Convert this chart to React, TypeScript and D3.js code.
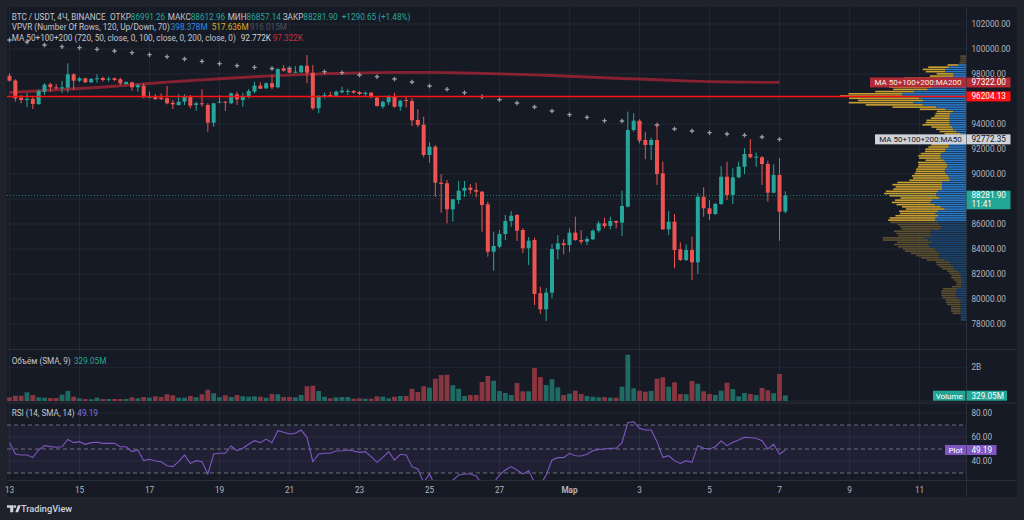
import React, { useMemo } from "react";
import * as d3 from "d3";

// ---------- data (4h candles, BTC/USDT, from 13 Feb) ----------
const START = new Date(2025, 1, 13, 0, 0);
const OPEN = [97864,97480,96104,95960,96000,95600,96584,97176,96936,96856,96904,97976,97464,97656,97336,97576,97680,97560,97656,97576,97200,97336,96936,97064,96104,96184,96104,96056,95704,95520,95784,96184,95520,95656,95520,94104,95704,95784,95656,96376,95920,96184,96584,97064,96856,97256,96936,98456,98376,98104,98136,98664,98104,95256,96240,96320,96264,96536,96560,96640,96560,96400,96504,96104,95384,95736,96184,95384,95920,95840,94320,93944,91520,92184,89304,89256,87176,87920,88664,88904,88720,88584,87576,83784,84184,85200,86240,86720,85520,84056,84720,80456,79176,80504,83976,84456,84320,85304,84720,84584,84776,85464,86056,85840,86240,86104,87384,93520,94264,92720,92320,92720,90056,85576,86184,83976,83120,83920,82936,88184,87256,86800,87600,89784,88320,89736,90584,91600,91304,91336,90800,88504,89920,86991.26];
const HIGH = [98056,97576,96320,96504,96184,96776,97256,97304,97200,97440,98856,98056,97760,97720,97680,98000,97784,97784,97720,97704,97400,97384,97256,97256,96584,96400,96456,97040,95920,96376,96376,96320,95784,96776,95656,95704,96320,95840,96504,96584,96504,96800,97384,97336,97336,97920,98456,98720,98584,98640,98720,99520,98720,96320,96504,96584,96680,96984,96800,96720,96640,96584,96560,96160,95864,96320,96504,95920,96184,96056,95176,94584,92536,92320,90000,89520,88000,89440,89440,89200,89304,88640,87784,85384,85520,86720,87040,86800,85680,84960,84904,80984,80856,84400,85120,84776,85656,86584,85520,84984,85576,86240,86504,86584,86280,88664,94984,94856,94376,93384,92904,94056,90984,87040,86800,84536,84376,84984,88456,88936,87920,87704,90640,90984,90456,90984,92056,92800,91704,91440,91064,90776,91256,88612.96];
const LOW = [97384,95784,95656,95336,95200,95520,96320,96584,96776,96480,96504,96720,97360,97280,97280,97304,97384,97384,97440,97120,97160,96664,96584,96056,96056,95920,95920,95576,95200,95464,95520,95256,95064,95384,93384,93784,95656,95040,95600,95520,95384,96056,96456,96800,96800,96800,96856,98184,98056,98056,98056,97256,95120,94856,96056,96184,96200,96456,96320,96440,96320,96240,96080,95400,95224,95520,95304,95064,95336,93840,93736,91336,90904,88184,86904,86056,86184,87600,88184,88400,88136,85384,83384,82264,84056,84720,85784,84640,83680,82720,79520,78800,78240,80056,83176,83576,83784,84664,84376,84320,84720,85304,85656,85576,85656,85040,87336,93384,92456,91176,91120,89120,85520,85120,82456,83040,83040,81520,82000,86584,86320,86720,87520,87920,87600,89656,90000,91256,90584,89120,87784,88456,84664,86857.14];
const CLOSE = [97464,96056,95920,96000,95600,96640,97144,96936,96856,96936,97976,97464,97656,97336,97600,97656,97520,97624,97520,97256,97360,96936,97120,96136,96184,96000,96000,95656,95576,95784,96184,95464,95656,95576,94104,95656,95784,95704,96456,95976,96184,96640,97064,96824,97256,96936,98400,98264,98104,98184,98664,98104,95256,96184,96320,96240,96584,96664,96640,96504,96400,96504,96136,95440,95784,96184,95384,95864,95840,94296,93920,91520,92184,89304,89200,87176,87976,88664,88904,88720,88584,87520,83784,84240,85200,86240,86664,85464,84056,84664,80400,79176,80504,84000,84456,84320,85304,84720,84584,84800,85464,86056,85840,86240,86104,87440,93520,94264,92664,92320,92720,90000,85576,86184,83920,83120,83920,82936,88184,87256,86800,87600,89784,88320,89736,90584,91600,91336,91384,90800,88504,89920,86984,88281.9];
// volume, millions of USDT
const VOLUME = [219,314,314,516,356,219,196,178,178,374,593,255,160,119,101,196,119,119,119,119,119,219,160,237,196,279,237,397,338,196,196,297,219,397,670,457,219,338,237,356,279,255,279,255,196,415,397,237,237,219,356,872,907,593,255,160,219,237,237,136,160,136,136,279,255,160,255,297,297,729,534,872,789,1322,1542,1560,931,729,297,356,356,1127,1483,1204,593,474,356,1067,575,575,1957,1423,949,1287,812,356,433,611,415,297,255,219,237,196,196,848,2746,753,611,551,593,1322,1405,848,1109,415,397,1186,1026,575,415,356,611,1085,712,279,474,415,356,771,635,457,1601,329];
const RSI = [55.3,45.8,45,45,43,49.2,52.8,52,51.4,51.9,58,55.3,56.1,53.9,55.3,55.6,54.7,54.7,54.7,51.9,51.9,47.8,49.2,40.3,41.4,40,39.4,36.1,35.3,39.4,45,38,40.3,39.4,29.2,45.8,46.4,46.4,52.5,48.6,50.6,53.9,56.9,55.3,58.3,55.3,65.3,63.9,62.5,63.1,65.8,59.7,39.4,45.8,46.4,46.4,48.3,48.6,49.2,48.3,47.2,47.8,43.6,38.9,43,47.8,40.8,45.6,45,35.3,33.3,22,29.2,19,18,16,24,28.3,29.2,29.2,27.5,21,17,22,28.3,32.5,35.3,32.5,29.2,31.9,22,20,28.3,40.8,42.8,42.8,46.4,44.4,44.2,45.6,48.6,49.7,50,50.6,50.6,55.3,71.9,72.8,67.2,65.8,65.8,56.1,43,44.4,40.3,38,40.3,38.9,52.8,50.6,50,51.9,56.7,52.8,55.6,57.5,59.7,59.4,58.9,56.9,50,53.9,45.6,49.19];
// 12h moving averages (one value every third 4h candle)
const MA200_12H = [96520,96600,96680,96760,96840,96920,97020,97130,97240,97350,97440,97530,97620,97700,97780,97850,97910,97970,98020,98060,98090,98110,98130,98136,98130,98110,98080,98050,98010,97970,97930,97880,97820,97760,97700,97640,97600,97540,97480,97430,97384,97360,97345,97330,97322];
const MA50_12H = [100720,100560,100320,100184,100104,99976,99840,99704,99544,99384,99200,99016,98824,98664,98536,98440,98440,98320,98184,98104,97920,97784,97600,97360,97040,96776,96504,96184,95944,95680,95360,95040,94744,94536,94264,94240,94080,93920,93600,93440,93304,93200,93096,92960,92772.35];
const HLINE = 96204.13;
const PRICE_TICKS = [78000,80000,82000,84000,86000,88000,90000,92000,94000,96000,98000,100000,102000];
const DATE_TICKS = ["2025-02-13","2025-02-15","2025-02-17","2025-02-19","2025-02-21","2025-02-23","2025-02-25","2025-02-27","2025-03-01","2025-03-03","2025-03-05","2025-03-07","2025-03-09","2025-03-11"];
const DATE_LABELS = ["13","15","17","19","21","23","25","27","Мар","3","5","7","9","11"];
const RSI_TICKS = [40,60,80];
const RSI_BANDS = [30,50,70];

const FONT = "Roboto, 'Liberation Sans', Arial, sans-serif";
const BG = "#161a25";
const OUTER = "#1f222b";
const GRID = "#222633";
const UP = "#26a69a";
const DOWN = "#ef5350";
const TXT = "#b2b5be";
const H4 = 4 * 3600 * 1000;
const DAY = 24 * 3600 * 1000;

const L = 7, R = 966, RE = 1017;

function parseDay(s: string) {
  const [y, m, d] = s.split("-").map(Number);
  return new Date(y, m - 1, d);
}

export default function App() {
  const x = d3.scaleTime().domain([START, new Date(START.getTime() + 22 * DAY)]).range([9.5, 779.5]);
  const xi = (i: number) => x(new Date(START.getTime() + i * H4));
  const y = d3.scaleLinear().domain([78000, 102000]).range([324, 24]);
  const yv = d3.scaleLinear().domain([0, 2000]).range([401, 367.3]);
  const yr = d3.scaleLinear().domain([30, 70]).range([473, 425]);

  const candles = OPEN.map((o, i) => ({ i, o, h: HIGH[i], l: LOW[i], c: CLOSE[i], v: VOLUME[i] }));

  // Visible range volume profile, 120 rows, up/down split, 70% value area
  const profile = useMemo(() => {
    const rows = 120;
    const hi = d3.max(HIGH) as number;
    const lo = d3.min(LOW) as number;
    const step = (hi - lo) / rows;
    const up = new Array(rows).fill(0);
    const dn = new Array(rows).fill(0);
    candles.forEach((k) => {
      const rng = k.h - k.l;
      for (let r = 0; r < rows; r++) {
        const a = lo + r * step, b = a + step;
        const ov = Math.min(k.h, b) - Math.max(k.l, a);
        if (ov <= 0) continue;
        const f = rng > 0 ? ov / rng : 1;
        if (k.c >= k.o) up[r] += k.v * f; else dn[r] += k.v * f;
      }
    });
    const tot = up.map((u, r) => u + dn[r]);
    const sum = d3.sum(tot);
    let poc = d3.maxIndex(tot);
    let a = poc, b = poc, acc = tot[poc];
    while (acc < sum * 0.7 && (a > 0 || b < rows - 1)) {
      const upNext = b < rows - 1 ? tot[b + 1] + (b < rows - 2 ? tot[b + 2] : 0) : -1;
      const dnNext = a > 0 ? tot[a - 1] + (a > 1 ? tot[a - 2] : 0) : -1;
      if (upNext >= dnNext) { b = Math.min(rows - 1, b + 2); } else { a = Math.max(0, a - 2); }
      acc = d3.sum(tot.slice(a, b + 1));
    }
    const w = d3.scaleLinear().domain([0, d3.max(tot) as number]).range([0, 126]);
    return tot.map((t, r) => ({
      lo: lo + r * step, hi: lo + (r + 1) * step,
      up: w(up[r]), dn: w(dn[r]), va: r >= a && r <= b,
    }));
  }, []);

  const ma200Line = d3.line<number>().x((_, k) => xi(k * 3)).y((v) => y(v))(MA200_12H) || "";
  const rsiLine = d3.line<number>().x((_, i) => xi(i)).y((v) => yr(v))(RSI) || "";

  const lastClose = CLOSE[CLOSE.length - 1];
  const boxes = [y(97322), y(HLINE), y(92772.35), y(lastClose) + 4];
  const tickVisible = (p: number) => boxes.every((b) => Math.abs(y(p) - b) > 8);

  const fmt = d3.format(".2f");
  const dates = DATE_TICKS.map(parseDay);

  return (
    <svg width={1024} height={520} style={{ position: "absolute", left: 0, top: 0, display: "block" }} fontFamily={FONT}>
      <defs>
        <clipPath id="cp-price"><rect x={L} y={7} width={R - L} height={342} /></clipPath>
        <clipPath id="cp-vol"><rect x={L} y={350} width={R - L} height={52} /></clipPath>
        <clipPath id="cp-rsi"><rect x={L} y={404} width={R - L} height={76} /></clipPath>
      </defs>
      <rect width={1024} height={520} fill={OUTER} />
      <rect x={L} y={7} width={RE - L} height={490} fill={BG} />

      {/* grid */}
      {dates.map((d, k) => (
        <line key={"vg" + k} x1={x(d)} x2={x(d)} y1={7} y2={480} stroke={GRID} strokeWidth={1} />
      ))}
      {PRICE_TICKS.map((p) => (
        <line key={"hg" + p} x1={L} x2={R} y1={y(p)} y2={y(p)} stroke={GRID} strokeWidth={1} />
      ))}
      <line x1={L} x2={R} y1={yv(2000)} y2={yv(2000)} stroke={GRID} />
      <line x1={L} x2={R} y1={yv(0)} y2={yv(0)} stroke={GRID} />
      {RSI_TICKS.map((t) => (
        <line key={"rg" + t} x1={L} x2={R} y1={yr(t)} y2={yr(t)} stroke={GRID} />
      ))}

      {/* pane separators */}
      <line x1={L} x2={RE} y1={349.5} y2={349.5} stroke="#2a2e39" />
      <line x1={L} x2={RE} y1={403} y2={403} stroke="#2a2e39" />
      <line x1={L} x2={RE} y1={480.5} y2={480.5} stroke="#2a2e39" />
      <line x1={R + 0.5} x2={R + 0.5} y1={7} y2={497} stroke="#2a2e39" />

      {/* price pane */}
      <g clipPath="url(#cp-price)">
        {profile.map((r, k) => {
          const y0 = y(r.hi) + 0.3, h = Math.max(0.8, y(r.lo) - y(r.hi) - 0.6);
          return (
            <g key={"vp" + k}>
              <rect x={R - r.up} y={y0} width={r.up} height={h} fill={r.va ? "#2a79c6" : "#1d4670"} />
              <rect x={R - r.up - r.dn} y={y0} width={r.dn} height={h} fill={r.va ? "#c9a032" : "#5c5030"} />
            </g>
          );
        })}
        <path d={ma200Line} fill="none" stroke="rgba(178,36,52,0.72)" strokeWidth={2.8} />
        {MA50_12H.map((v, k) => {
          const cx = xi(k * 3), cy = y(v);
          return (
            <path key={"c" + k} d={`M${cx - 2.2},${cy}H${cx + 2.2}M${cx},${cy - 2.2}V${cy + 2.2}`} stroke="#9a9da6" strokeWidth={1.3} />
          );
        })}
        {candles.map((k) => {
          const cx = xi(k.i);
          const col = k.c >= k.o ? UP : DOWN;
          const top = y(Math.max(k.o, k.c));
          const bh = Math.max(1, y(Math.min(k.o, k.c)) - top);
          return (
            <g key={"k" + k.i}>
              <line x1={cx} x2={cx} y1={y(k.h)} y2={y(k.l)} stroke={col} strokeWidth={1} />
              <rect x={cx - 2} y={top} width={4} height={bh} fill={col} />
            </g>
          );
        })}
        <line x1={L} x2={R} y1={y(lastClose)} y2={y(lastClose)} stroke={UP} strokeOpacity={0.7} strokeDasharray="1 2" />
        <line x1={L} x2={R} y1={y(HLINE)} y2={y(HLINE)} stroke="#ff1111" strokeWidth={1.5} />
      </g>

      {/* volume pane */}
      <g clipPath="url(#cp-vol)">
        {candles.map((k) => (
          <rect key={"v" + k.i} x={xi(k.i) - 2.4} y={yv(k.v)} width={4.8} height={yv(0) - yv(k.v)}
            fill={k.c >= k.o ? "#1f6b64" : "#8a3640"} />
        ))}
      </g>

      {/* RSI pane */}
      <rect x={L} y={yr(70)} width={R - L} height={yr(30) - yr(70)} fill="rgba(126,87,194,0.1)" />
      {RSI_BANDS.map((b) => (
        <line key={"rb" + b} x1={L} x2={R} y1={yr(b)} y2={yr(b)} stroke="#6b6e78" strokeDasharray="4 3" strokeWidth={1} />
      ))}
      <g clipPath="url(#cp-rsi)">
        <path d={rsiLine} fill="none" stroke="#7e57c2" strokeWidth={1.1} />
      </g>

      {/* right axis labels */}
      {PRICE_TICKS.filter(tickVisible).map((p) => (
        <text key={"pt" + p} x={971.5} y={y(p) + 3} fontSize={8.2} fill={TXT}>{fmt(p)}</text>
      ))}
      <text x={971.5} y={yv(2000) + 3} fontSize={8.2} fill={TXT}>2B</text>
      {RSI_TICKS.map((t) => (
        <text key={"rt" + t} x={971.5} y={yr(t) + 3} fontSize={8.2} fill={TXT}>{fmt(t)}</text>
      ))}

      {/* price label boxes */}
      <rect x={870} y={y(97322) - 5} width={96} height={10} fill="#b22a36" />
      <text x={918} y={y(97322) + 3} fontSize={8} fill="#f0f0f0" textAnchor="middle">MA 50+100+200:MA200</text>
      <rect x={966.5} y={y(97322) - 5} width={44} height={10} fill="#b22a36" />
      <text x={971.5} y={y(97322) + 3} fontSize={8.2} fill="#ffffff">97322.00</text>

      <rect x={966.5} y={y(HLINE) - 5} width={44} height={10} fill="#ff1111" />
      <text x={971.5} y={y(HLINE) + 3} fontSize={8.2} fill="#ffffff">{fmt(HLINE)}</text>

      <rect x={875} y={y(92772.35) - 5} width={91} height={10} fill="#cfd2d9" />
      <text x={920.5} y={y(92772.35) + 3} fontSize={8} fill="#131722" textAnchor="middle">MA 50+100+200:MA50</text>
      <rect x={966.5} y={y(92772.35) - 5} width={44} height={10} fill="#cfd2d9" />
      <text x={971.5} y={y(92772.35) + 3} fontSize={8.2} fill="#131722">92772.35</text>

      <rect x={966.5} y={y(lastClose) - 4.8} width={44} height={18.6} fill="#22a595" />
      <text x={971.5} y={y(lastClose) + 3} fontSize={8.2} fill="#ffffff">{fmt(lastClose)}</text>
      <text x={971.5} y={y(lastClose) + 11.5} fontSize={8.2} fill="#ffffff">11:41</text>

      <rect x={933} y={390.7} width={32.5} height={10} fill="#22a595" />
      <text x={949.2} y={398.5} fontSize={8} fill="#ffffff" textAnchor="middle">Volume</text>
      <rect x={966.5} y={390.7} width={40.5} height={10} fill="#22a595" />
      <text x={971.5} y={398.5} fontSize={8.2} fill="#ffffff">329.05M</text>

      <rect x={945} y={yr(49.19) - 5} width={21} height={10} fill="#7e57c2" />
      <text x={955.5} y={yr(49.19) + 3} fontSize={8} fill="#ffffff" textAnchor="middle">Plot</text>
      <rect x={966.5} y={yr(49.19) - 5} width={30} height={10} fill="#7e57c2" />
      <text x={971.5} y={yr(49.19) + 3} fontSize={8.2} fill="#ffffff">49.19</text>

      {/* time axis */}
      {dates.map((d, k) => (
        <text key={"dt" + k} x={x(d)} y={492.5} fontSize={8.2} fill={TXT} textAnchor="middle"
          fontWeight={DATE_LABELS[k] === "Мар" ? 700 : 400}>{DATE_LABELS[k]}</text>
      ))}

      {/* legends */}
      <text y={19.5} fontSize={8.2} fill="#c3c6ce">
        <tspan x={11.7}>BTC / USDT, 4Ч, BINANCE</tspan>
        <tspan x={110}>ОТКР</tspan><tspan fill={UP}>86991.26</tspan>
        <tspan x={167.7}>МАКС</tspan><tspan fill={UP}>88612.96</tspan>
        <tspan x={227.7}>МИН</tspan><tspan fill={UP}>86857.14</tspan>
        <tspan x={282.7}>ЗАКР</tspan><tspan fill={UP}>88281.90</tspan>
        <tspan x={341.7} fill={UP}>+1290.65 (+1.48%)</tspan>
      </text>
      <text y={30.3} fontSize={8.2} fill="#c3c6ce">
        <tspan x={11.7}>VPVR (Number Of Rows, 120, Up/Down, 70)</tspan>
        <tspan x={170.7} fill="#2a8ae0">398.378M</tspan>
        <tspan x={211.7} fill="#e0aa22">517.636M</tspan>
        <tspan x={250} fill="#4c505a">916.015M</tspan>
      </text>
      <text y={41.3} fontSize={8.2} fill="#c3c6ce">
        <tspan x={11.7}>MA 50+100+200 (720, 50, close, 0, 100, close, 0, 200, close, 0)</tspan>
        <tspan x={240.7} fill="#d1d4dc">92.772K</tspan>
        <tspan x={272.7} fill="#c2303c">97.322K</tspan>
      </text>
      <text y={364} fontSize={8.2} fill="#c3c6ce">
        <tspan x={11.7}>Объём (SMA, 9)</tspan>
        <tspan x={74} fill={UP}>329.05M</tspan>
      </text>
      <text y={416.3} fontSize={8.2} fill="#c3c6ce">
        <tspan x={11.7}>RSI (14, SMA, 14)</tspan>
        <tspan x={77.3} fill="#8f6fd6">49.19</tspan>
      </text>

      {/* footer logo */}
      <path d="M7,505.2h6.3v7h-3.1v-4.4h-3.2z" fill="#d1d4dc" />
      <circle cx={14.8} cy={506.6} r={1.4} fill="#d1d4dc" />
      <path d="M15.3,512.2l2.6,-7h2.9l-2.6,7z" fill="#d1d4dc" />
      <text x={21} y={512} fontSize={9.2} fill="#d1d4dc" fontWeight={500}>TradingView</text>
    </svg>
  );
}
